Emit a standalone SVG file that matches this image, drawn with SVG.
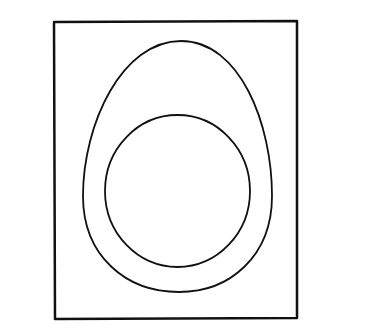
<svg xmlns="http://www.w3.org/2000/svg" width="372" height="334" viewBox="0 0 372 334">
<style>.s{fill:none;stroke:#111;stroke-linecap:round;stroke-linejoin:round}</style>
<rect width="372" height="334" fill="#fff"/>
<g id="frame"><path class="s" stroke-width="2.5" d="M54,22 L297,21 L297,318 L55,319 Z"/></g>
<g id="egg"><path class="s" stroke-width="1.8" d="M181,41 C240,41 272,124 272,196 C272,256 230,292 179,292 C126,292 83,256 83,196 C83,124 122,41 181,41 Z"/></g>
<g id="yolk"><ellipse class="s" stroke-width="1.8" cx="177.5" cy="191" rx="72.5" ry="76"/></g>
</svg>
